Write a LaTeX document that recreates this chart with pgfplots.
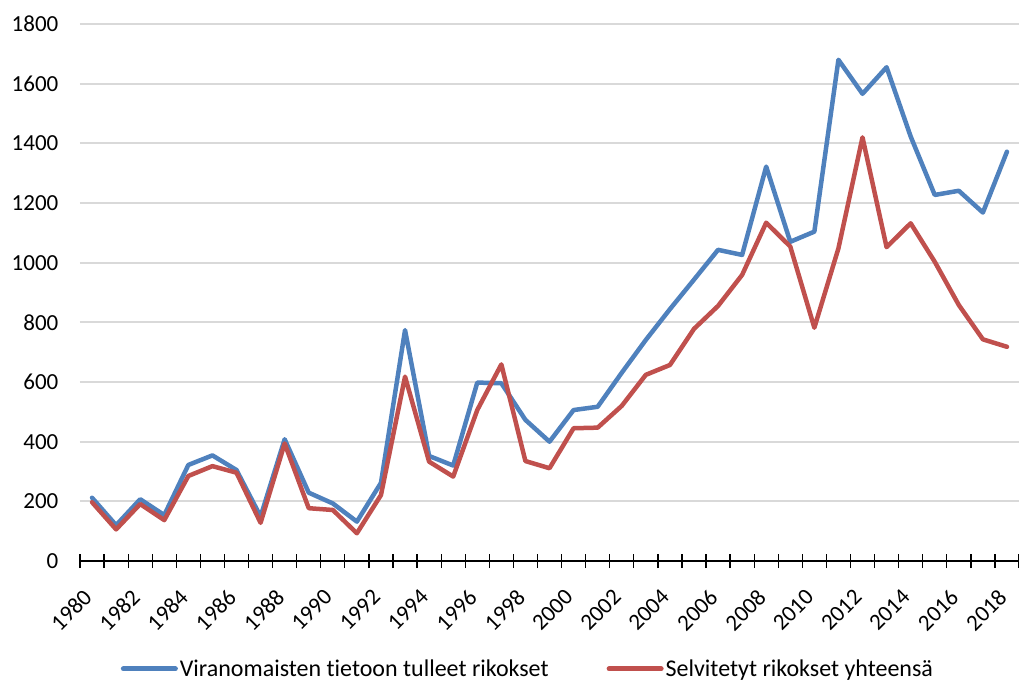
\documentclass[border=0pt]{standalone}
\usepackage{pgfplots}
\pgfplotsset{compat=1.18}
\usepackage{fontspec}
\setmainfont{Carlito}[Ligatures=NoCommon]
\definecolor{cblue}{HTML}{4F81BD}
\definecolor{cred}{HTML}{C0504D}
\definecolor{cgrid}{HTML}{D9D9D9}
\begin{document}
\begin{tikzpicture}[x=1pt,y=1pt]
\begin{axis}[
  scale only axis, width=939pt, height=537pt,
  at={(0pt,0pt)}, anchor=south west,
  xmin=-0.5, xmax=38.5, ymin=0, ymax=1800,
  axis x line*=bottom, axis y line*=left,
  y axis line style={draw=none},
  x axis line style={line width=1.5pt, black, -},
  ytick={0,200,...,1800},
  major y tick style={draw=none},
  ymajorgrids, grid style={cgrid, line width=1.8pt},
  yticklabel style={font=\fontsize{23}{27}\selectfont, anchor=east, xshift=-16pt},
  xtick={0,2,...,38},
  xticklabels={1980,1982,1984,1986,1988,1990,1992,1994,1996,1998,2000,2002,2004,2006,2008,2010,2012,2014,2016,2018},
  xticklabel style={font=\fontsize{23}{27}\selectfont, xshift=-10pt, yshift=-20pt, rotate=45, anchor=north east},
  major x tick style={draw=none},
  minor xtick={-0.5,0.5,...,38.5},
  minor tick length=14pt,
  tick align=center,
  minor x tick style={black, line width=1.3pt},
  /pgf/number format/assume math mode=true,
  /pgf/number format/1000 sep={},
  legend style={at={(0.477,-0.201)}, anchor=center, draw=none, fill=none,
    font=\fontsize{24}{28}\selectfont, legend columns=2,
    /tikz/every even column/.append style={column sep=56pt}},
  legend image code/.code={\draw[#1, line width=5pt, line cap=round] (0pt,0pt) -- (52pt,0pt);},
  clip=false,
]
\addplot[cblue, line width=4.5pt, line join=round, line cap=round] coordinates {
(0,212) (1,120) (2,207) (3,154) (4,322) (5,354) (6,305) (7,149) (8,408) (9,229)
(10,193) (11,132) (12,262) (13,774) (14,352) (15,320) (16,598) (17,596) (18,473) (19,400)
(20,506) (21,517) (22,631) (23,741) (24,844) (25,943) (26,1043) (27,1026) (28,1322) (29,1070)
(30,1104) (31,1680) (32,1566) (33,1655) (34,1423) (35,1227) (36,1241) (37,1168) (38,1372)
};
\addlegendentry{Viranomaisten tietoon tulleet rikokset}
\addplot[cred, line width=4.5pt, line join=round, line cap=round] coordinates {
(0,197) (1,106) (2,191) (3,137) (4,285) (5,318) (6,296) (7,128) (8,394) (9,177)
(10,171) (11,93) (12,221) (13,618) (14,333) (15,283) (16,506) (17,659) (18,335) (19,311)
(20,445) (21,447) (22,520) (23,624) (24,657) (25,778) (26,855) (27,959) (28,1134) (29,1054)
(30,782) (31,1048) (32,1420) (33,1052) (34,1132) (35,1003) (36,858) (37,743) (38,718)
};
\addlegendentry{Selvitetyt rikokset yhteensä}
\end{axis}
\pgfresetboundingbox
\path (-80pt,-120pt) rectangle (939pt,561pt);
\end{tikzpicture}
\end{document}
